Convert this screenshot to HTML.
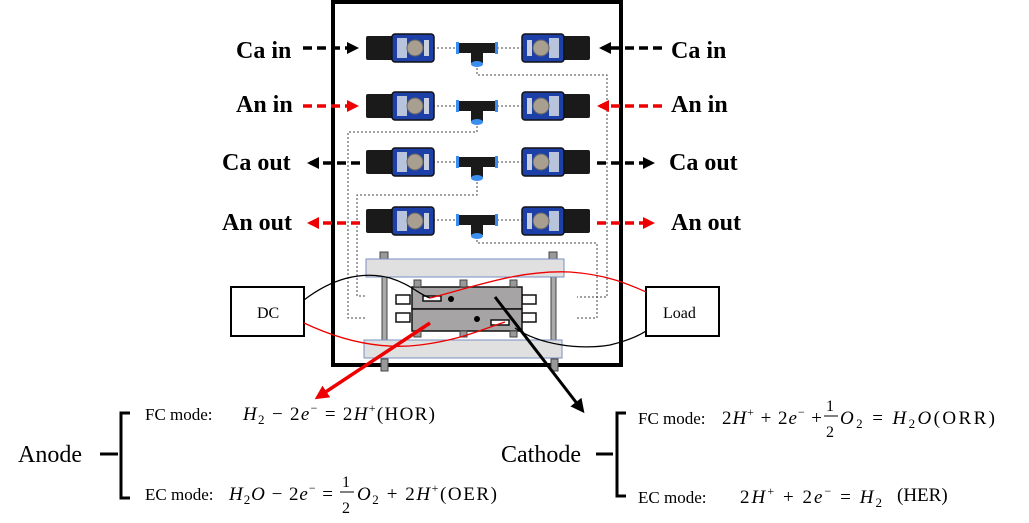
<!DOCTYPE html>
<html><head><style>
html,body{margin:0;padding:0;background:#fff;}
svg{display:block;}
text{font-family:"Liberation Serif",serif;}
.b{font-weight:bold;font-size:24px;}
.m{font-style:italic;}
</style></head><body>
<svg width="1029" height="523" viewBox="0 0 1029 523" xmlns="http://www.w3.org/2000/svg">
<defs>
<marker id="ak" markerWidth="12" markerHeight="12" refX="9" refY="6" orient="auto" markerUnits="userSpaceOnUse"><path d="M0,0 L12,6 L0,12 z" fill="#000"/></marker>
<marker id="ar" markerWidth="12" markerHeight="12" refX="9" refY="6" orient="auto" markerUnits="userSpaceOnUse"><path d="M0,0 L12,6 L0,12 z" fill="#e00"/></marker>
<marker id="bk" markerWidth="14" markerHeight="14" refX="10" refY="7" orient="auto" markerUnits="userSpaceOnUse"><path d="M0,0 L14,7 L0,14 z" fill="#000"/></marker>
<marker id="br" markerWidth="14" markerHeight="14" refX="10" refY="7" orient="auto" markerUnits="userSpaceOnUse"><path d="M0,0 L14,7 L0,14 z" fill="#e00"/></marker>
<g id="vl">
<rect x="0" y="-12" width="28" height="24" rx="2" fill="#1a1a1a"/>
<rect x="26" y="-14" width="42" height="28" rx="3" fill="#1d3fa8" stroke="#111" stroke-width="1.5"/>
<rect x="31" y="-10" width="10" height="20" fill="#b8c4dc"/>
<circle cx="49" cy="0" r="8" fill="#a89f90" stroke="#666"/>
<rect x="58" y="-8" width="5" height="16" fill="#c8d0e0"/>
</g>
<g id="tee">
<rect x="0" y="-5" width="38" height="10" fill="#1a1a1a"/>
<rect x="13" y="-5" width="12" height="20" fill="#1a1a1a"/>
<rect x="-2" y="-6" width="3" height="12" fill="#3a8ef0"/>
<rect x="37" y="-6" width="3" height="12" fill="#3a8ef0"/>
<ellipse cx="19" cy="16" rx="6" ry="3" fill="#3a8ef0"/>
</g>
</defs>

<rect x="333" y="2" width="288" height="363" fill="none" stroke="#000" stroke-width="4"/>

<g fill="none" stroke="#444" stroke-width="1" stroke-dasharray="2,2">
<path d="M433,48 H458 M497,48 H522 M433,106 H458 M497,106 H522 M433,162 H458 M497,162 H522 M433,220 H458 M497,220 H522"/>
<path d="M477,64 V75 H607 V297 H577"/>
<path d="M477,122 V132 H348 V318 H365"/>
<path d="M477,178 V195 H357 V296 H365"/>
<path d="M477,236 V243 H597 V318 H577"/>
</g>

<g>
<use href="#vl" x="366" y="48"/><use href="#vl" x="366" y="106"/><use href="#vl" x="366" y="162"/><use href="#vl" x="366" y="221"/>
<use href="#vl" transform="translate(590,48) scale(-1,1)"/><use href="#vl" transform="translate(590,106) scale(-1,1)"/><use href="#vl" transform="translate(590,162) scale(-1,1)"/><use href="#vl" transform="translate(590,221) scale(-1,1)"/>
<use href="#tee" x="458" y="48"/><use href="#tee" x="458" y="106"/><use href="#tee" x="458" y="162"/><use href="#tee" x="458" y="220"/>
</g>

<g class="b">
<text x="236" y="58">Ca in</text>
<text x="236" y="112">An in</text>
<text x="222" y="170">Ca out</text>
<text x="222" y="230">An out</text>
<text x="671" y="58">Ca in</text>
<text x="671" y="112">An in</text>
<text x="669" y="170">Ca out</text>
<text x="671" y="230">An out</text>
</g>
<g stroke-width="3.5" stroke-dasharray="9,5" fill="none">
<line x1="303" y1="48" x2="356" y2="48" stroke="#000" marker-end="url(#ak)"/>
<line x1="303" y1="106" x2="356" y2="106" stroke="#e00" marker-end="url(#ar)"/>
<line x1="360" y1="163" x2="310" y2="163" stroke="#000" marker-end="url(#ak)"/>
<line x1="360" y1="223" x2="310" y2="223" stroke="#e00" marker-end="url(#ar)"/>
<line x1="662" y1="48" x2="602" y2="48" stroke="#000" marker-end="url(#ak)"/>
<line x1="662" y1="106" x2="600" y2="106" stroke="#e00" marker-end="url(#ar)"/>
<line x1="597" y1="163" x2="652" y2="163" stroke="#000" marker-end="url(#ak)"/>
<line x1="597" y1="223" x2="652" y2="223" stroke="#e00" marker-end="url(#ar)"/>
</g>

<g stroke="#444">
<rect x="380" y="252" width="8" height="8" fill="#999"/><rect x="549" y="252" width="8" height="8" fill="#999"/>
<rect x="381" y="359" width="7" height="12" fill="#999"/><rect x="551" y="359" width="7" height="12" fill="#999"/>
<rect x="382" y="277" width="5" height="64" fill="#aaa"/><rect x="551" y="277" width="5" height="64" fill="#aaa"/>
</g>
<rect x="366" y="259" width="198" height="18" fill="#e0e0e0" stroke="#7a8fc0"/>
<rect x="364" y="340" width="198" height="18" fill="#e0e0e0" stroke="#7a8fc0"/>
<g stroke="#111" stroke-width="1.5">
<rect x="396" y="295" width="14" height="9" fill="#fff"/><rect x="396" y="313" width="14" height="9" fill="#fff"/>
<rect x="522" y="295" width="14" height="9" fill="#fff"/><rect x="522" y="313" width="14" height="9" fill="#fff"/>
<rect x="412" y="287" width="110" height="22" fill="#a6a4a4"/>
<rect x="412" y="309" width="110" height="22" fill="#a6a4a4"/>
<rect x="423" y="296" width="18" height="5" fill="#fff"/>
<rect x="491" y="320" width="18" height="5" fill="#fff"/>
</g>
<g fill="#999" stroke="#444"><rect x="414" y="280" width="7" height="7"/><rect x="460" y="280" width="7" height="7"/><rect x="510" y="280" width="7" height="7"/>
<rect x="414" y="331" width="7" height="6"/><rect x="460" y="331" width="7" height="6"/><rect x="510" y="331" width="7" height="6"/></g>
<circle cx="451" cy="299" r="3" fill="#000"/><circle cx="477" cy="319" r="3" fill="#000"/>

<rect x="231" y="287" width="73" height="49" fill="#fff" stroke="#000" stroke-width="2"/>
<text x="257" y="318" font-size="16">DC</text>
<rect x="646" y="287" width="73" height="49" fill="#fff" stroke="#000" stroke-width="2"/>
<text x="663" y="318" font-size="16">Load</text>
<g fill="none" stroke-width="1.3">
<path d="M304,300 C330,280 360,270 390,278 C410,284 420,295 430,298" stroke="#000"/>
<path d="M304,323 C340,340 380,350 420,345 C460,340 480,330 505,322" stroke="#e00"/>
<path d="M430,298 C480,285 520,270 570,272 C610,275 630,285 646,292" stroke="#e00"/>
<path d="M515,328 C540,345 580,350 610,345 C630,340 640,335 646,331" stroke="#000"/>
</g>

<line x1="430" y1="323" x2="318" y2="397" stroke="#e00" stroke-width="3.5" marker-end="url(#br)"/>
<line x1="495" y1="297" x2="582" y2="410" stroke="#000" stroke-width="3" marker-end="url(#bk)"/>

<!-- Anode -->
<text x="18" y="462" font-size="24">Anode</text>
<path d="M100,454 H118 M130,413 H121 V498 H130" fill="none" stroke="#000" stroke-width="3"/>
<text x="145" y="420" font-size="17">FC mode:</text>
<text x="243" y="420" font-size="19" textLength="192" lengthAdjust="spacing"><tspan class="m">H</tspan><tspan font-size="13" dy="4">2</tspan><tspan dy="-4"> − 2</tspan><tspan class="m">e</tspan><tspan font-size="12" dy="-8">−</tspan><tspan dy="8"> = 2</tspan><tspan class="m">H</tspan><tspan font-size="12" dy="-8">+</tspan><tspan dy="8">(HOR)</tspan></text>
<text x="145" y="500" font-size="17">EC mode:</text>
<text x="229" y="500" font-size="19" textLength="104" lengthAdjust="spacing"><tspan class="m">H</tspan><tspan font-size="13" dy="4">2</tspan><tspan dy="-4" class="m">O</tspan><tspan> − 2</tspan><tspan class="m">e</tspan><tspan font-size="12" dy="-8">−</tspan><tspan dy="8"> =</tspan></text>
<text x="342" y="487" font-size="16">1</text><line x1="340" y1="492" x2="354" y2="492" stroke="#000"/><text x="342" y="513" font-size="16">2</text>
<text x="357" y="500" font-size="19" textLength="140" lengthAdjust="spacing"><tspan class="m">O</tspan><tspan font-size="13" dy="4">2</tspan><tspan dy="-4"> + 2</tspan><tspan class="m">H</tspan><tspan font-size="12" dy="-8">+</tspan><tspan dy="8">(OER)</tspan></text>

<!-- Cathode -->
<text x="501" y="462" font-size="24">Cathode</text>
<path d="M596,454 H613 M626,413 H617 V496 H626" fill="none" stroke="#000" stroke-width="3"/>
<text x="638" y="424" font-size="17">FC mode:</text>
<text x="722" y="424" font-size="19" textLength="100" lengthAdjust="spacing"><tspan>2</tspan><tspan class="m">H</tspan><tspan font-size="12" dy="-8">+</tspan><tspan dy="8"> + 2</tspan><tspan class="m">e</tspan><tspan font-size="12" dy="-8">−</tspan><tspan dy="8"> +</tspan></text>
<text x="826" y="411" font-size="16">1</text><line x1="824" y1="416" x2="838" y2="416" stroke="#000"/><text x="826" y="437" font-size="16">2</text>
<text x="840" y="424" font-size="19" textLength="155" lengthAdjust="spacing"><tspan class="m">O</tspan><tspan font-size="13" dy="4">2</tspan><tspan dy="-4"> = </tspan><tspan class="m">H</tspan><tspan font-size="13" dy="4">2</tspan><tspan dy="-4" class="m">O</tspan><tspan>(ORR)</tspan></text>
<text x="638" y="503" font-size="17">EC mode:</text>
<text x="740" y="503" font-size="19" textLength="142" lengthAdjust="spacing"><tspan>2</tspan><tspan class="m">H</tspan><tspan font-size="12" dy="-8">+</tspan><tspan dy="8"> + 2</tspan><tspan class="m">e</tspan><tspan font-size="12" dy="-8">−</tspan><tspan dy="8"> = </tspan><tspan class="m">H</tspan><tspan font-size="13" dy="4">2</tspan></text>
<text x="897" y="501" font-size="19">(HER)</text>
</svg>
</body></html>
